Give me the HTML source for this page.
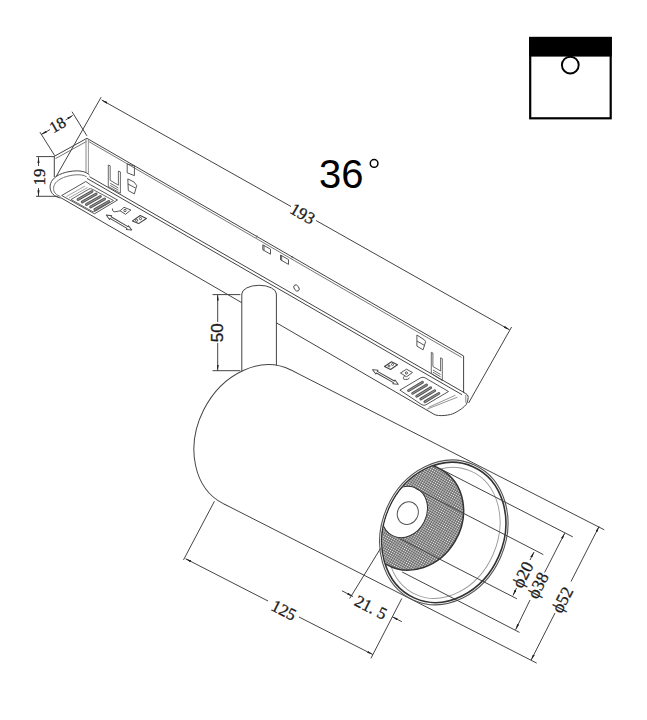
<!DOCTYPE html>
<html><head><meta charset="utf-8">
<style>
html,body{margin:0;padding:0;background:#fff;width:647px;height:720px;overflow:hidden}
svg{display:block;position:absolute;left:0;top:0}
text{font-family:"Liberation Serif",serif;fill:#1a1a1a;stroke:#1a1a1a;stroke-width:0.3px}
</style></head><body>
<svg width="647" height="720" viewBox="0 0 647 720" fill="none" stroke="#333" stroke-width="1">
<defs>
<pattern id="mesh" width="2.2" height="2.2" patternUnits="userSpaceOnUse">
<rect width="2.2" height="2.2" fill="#606060" stroke="none"/>
<circle cx="1.1" cy="1.1" r="0.75" fill="#f4f4f4" stroke="none"/>
</pattern>
<marker id="arr" viewBox="0 0 6 2.2" refX="6" refY="1.1" markerWidth="6" markerHeight="2.2" orient="auto-start-reverse" markerUnits="userSpaceOnUse">
<path d="M0,0 L6,1.1 L0,2.2 z" fill="#222" stroke="none"/>
</marker>
</defs>

<!-- icon -->
<rect x="530.2" y="38" width="80.5" height="80.3" stroke="#000" stroke-width="2.2"/>
<rect x="529.1" y="36.9" width="82.7" height="19.7" fill="#000" stroke="none"/>
<circle cx="570.3" cy="65.1" r="8.4" stroke="#000" stroke-width="1.9"/>

<!-- 36 deg -->
<text x="319" y="188" style="font-family:'Liberation Sans',sans-serif;font-size:40px;fill:#000;stroke:none">36</text>
<circle cx="374.1" cy="163.4" r="3.85" stroke="#000" stroke-width="1.5"/>

<!-- ============ TRACK ============ -->
<g stroke="#444">
<!-- L1 double -->
<line x1="86.9" y1="138.3" x2="463.7" y2="356"/>
<line x1="87.8" y1="141" x2="461.6" y2="357.4" stroke="#777"/>
<!-- A-B double -->
<line x1="54.3" y1="156.3" x2="86.9" y2="138.3"/>
<line x1="55.5" y1="158.6" x2="86.4" y2="141.5" stroke="#777"/>
<!-- left vertical -->
<line x1="54.3" y1="156.3" x2="54.3" y2="177"/>
<!-- B vertical double -->
<line x1="86" y1="139" x2="86" y2="172.5" stroke="#888"/>
<line x1="88.4" y1="140" x2="88.4" y2="173.5" stroke="#999"/>
<!-- right vertical -->
<line x1="463.6" y1="356" x2="463.6" y2="392.5"/>
<!-- L2 double -->
<line x1="89.5" y1="176.7" x2="464.3" y2="392.7"/>
<line x1="87" y1="178.4" x2="462" y2="394.7"/>
<!-- L3 -->
<line x1="61.7" y1="198.2" x2="433.9" y2="414.2"/>
<!-- left end cap -->
<path d="M89.5,175 C86,171.5 80,170.7 75.6,170.9 C67,171.3 57,174 52.5,180 C49.3,184 49.3,190 52.4,193.6 C55,196.5 58,197.6 61.7,198.2"/>
<path d="M86.7,176.9 C83.5,174.6 79,174.6 75,174.9 C67,175.6 59,178.5 55.5,183 C53,186.5 53,190.5 55,193 C56.5,194.8 58.5,195.8 60.5,196.5" stroke="#777"/>
<!-- right end cap -->
<path d="M463.6,392.5 C466.5,393.5 468.5,395.5 468.2,397.5 C468,400 467.5,402 466.4,404.3 C464,407 461.5,409 459.9,409.9 C456,412.5 453,413.8 450.6,414.5 C446,415.5 442,415.8 438.5,415.5 C436.5,415.3 435,415 433.9,414.2"/>
<path d="M465.8,394.8 L465.8,402.8" stroke="#888"/>
</g>

<!-- track small features -->
<g stroke="#444" stroke-width="0.9">
<!-- left grille -->
<path d="M61.7,195.5 L85.8,181.5 L90.5,184.8 L117.5,200 L94.5,213.8 Z"/>
<path d="M66.5,196.5 L85,186 M69,198 L87.5,187.5" stroke="#999"/>
<path d="M71,199.5 L89,189 Q90.5,188.3 92,189 L113.5,200.5 L95,211.3 Q93.5,212 92,211.3 Z" stroke="#555"/>
<g stroke="#555" stroke-width="2.8" stroke-linecap="round">
<line x1="78" y1="199.5" x2="92" y2="191.5"/>
<line x1="82.2" y1="202" x2="96.2" y2="194"/>
<line x1="86.4" y1="204.5" x2="100.4" y2="196.5"/>
<line x1="90.6" y1="207" x2="104.6" y2="199"/>
<line x1="94.8" y1="209.5" x2="108.8" y2="201.5"/>
</g>
<g stroke="#999" stroke-width="1" stroke-linecap="round">
<line x1="78" y1="199.5" x2="92" y2="191.5"/>
<line x1="82.2" y1="202" x2="96.2" y2="194"/>
<line x1="86.4" y1="204.5" x2="100.4" y2="196.5"/>
<line x1="90.6" y1="207" x2="104.6" y2="199"/>
<line x1="94.8" y1="209.5" x2="108.8" y2="201.5"/>
</g>
<!-- left small symbols -->
<path d="M112.4,208.5 Q112.5,212.2 115,211.8 L120.1,210.8 L124,207.3 L130.9,210 L125.5,214.3 L120.1,210.8"/>
<circle cx="125" cy="210.5" r="1.2"/>
<path d="M-14.8,0 L-9.8,-2.2 L-9.8,-1 L9.8,-1 L9.8,-2.2 L14.8,0 L9.8,2.2 L9.8,1 L-9.8,1 L-9.8,2.2 Z" transform="translate(119,222.6) rotate(30.6)" stroke-linejoin="round"/>
<path d="M132.5,220.9 L140.2,215.5 L146.4,218.5 L138.6,223.6 Z" stroke-linejoin="round" stroke-width="1.1"/>
<circle cx="136.6" cy="220.3" r="1.1"/><circle cx="140.5" cy="218.6" r="1.1"/>
<!-- left connector U on side -->
<path d="M108.3,186.5 L108.3,165 L110.2,165.8 L110.2,180.3 L118.4,185.2 L118.4,171 L120.4,171.9 L120.4,193.2 L118.4,192.2 L110.2,187.5 L108.3,186.5 M110.2,183.2 L118.4,188 M110.2,185.4 L118.4,190.2" stroke-width="0.8"/>
<path d="M127.2,163.9 L134.4,166.1 L134.4,175.6 L127.2,172.8 Z"/>
<path d="M127.8,178.9 L134,182 L136.7,185.5 L134.4,193.9 L128.3,190.6 Z M128,184 L135.5,188"/>
<!-- middle slots -->
<path d="M262.8,244.8 L270.5,249.2 L270.5,254.2 L262.8,249.8 Z M264,245.5 L264,250.5"/>
<path d="M280.5,255 L288.5,259.6 L288.5,264.4 L280.5,259.8 Z M281.7,255.7 L281.7,260.5"/>
<ellipse cx="296.5" cy="288" rx="2.3" ry="3.4" transform="rotate(-35 296.5 288)"/>
<path d="M257.2,235.2 L256.2,237.8 M292.8,255.9 L291.8,258.5" stroke="#666"/>
<!-- right connectors -->
<path d="M431.3,373 L431.3,352.3 L432.9,353 L432.9,366.5 L440.6,371 L440.6,357.8 L442.3,358.6 L442.3,380.5 L440.6,379.5 L432.9,374.5 L431.3,373 M432.9,370 L440.6,374.5 M432.9,372.2 L440.6,376.8" stroke-width="0.8"/>
<path d="M416.9,335 L424.4,339.9 L425.6,341.7 L423.1,349.8 L416.9,346.1 Z M417,341 L424.5,345.5"/>
<path d="M399.9,390.1 L421,377.6 Q423,376.8 425,377.8 L448.5,391.5 L425.8,404.9 Q424,405.7 422,404.8 Z"/>
<path d="M428.6,407.3 L455.5,395.2 M426.7,409.3 L457.4,397.2" stroke="#888"/>
<g stroke="#555" stroke-width="2.8" stroke-linecap="round">
<line x1="408.5" y1="390.6" x2="422.5" y2="382.2"/>
<line x1="412.6" y1="393.4" x2="426.6" y2="385"/>
<line x1="416.7" y1="396.2" x2="430.7" y2="387.8"/>
<line x1="420.8" y1="399" x2="434.8" y2="390.6"/>
<line x1="424.9" y1="401.8" x2="438.9" y2="393.4"/>
</g>
<g stroke="#999" stroke-width="1" stroke-linecap="round">
<line x1="408.5" y1="390.6" x2="422.5" y2="382.2"/>
<line x1="412.6" y1="393.4" x2="426.6" y2="385"/>
<line x1="416.7" y1="396.2" x2="430.7" y2="387.8"/>
<line x1="420.8" y1="399" x2="434.8" y2="390.6"/>
<line x1="424.9" y1="401.8" x2="438.9" y2="393.4"/>
</g>
<path d="M-14.8,0 L-9.8,-2.2 L-9.8,-1 L9.8,-1 L9.8,-2.2 L14.8,0 L9.8,2.2 L9.8,1 L-9.8,1 L-9.8,2.2 Z" transform="translate(385.4,377) rotate(29.7)" stroke-linejoin="round"/>
<path d="M384.5,366.5 L391.5,361.8 L397.5,364.8 L390.5,369.5 Z" stroke-linejoin="round" stroke-width="1.1"/>
<circle cx="389" cy="366" r="1"/><circle cx="392.5" cy="364.5" r="1"/>
<path d="M400.5,373 L406.5,369.2 L412.5,372.5 L406.5,376.8 Z"/>
<circle cx="406.4" cy="373" r="1.1"/>
<path d="M404.5,376 Q401.5,379.5 405.8,379.5 Q408,379.8 409.5,378"/>
</g>

<!-- ============ STEM ============ -->
<path d="M241.8,372 L241.8,294 A17.3,8.7 0 0 1 276.4,294 L276.4,368" fill="#fff" stroke="#444"/>

<!-- ============ CYLINDER ============ -->
<defs>
<clipPath id="ringclip"><ellipse cx="0" cy="0" rx="59.3" ry="71.3" transform="translate(443.8,532.4) rotate(23.9)"/></clipPath>
</defs>
<g stroke="#444">
<ellipse cx="0" cy="0" rx="59.8" ry="74.9" transform="translate(257.1,436.8) rotate(26.8)" fill="#fff"/>
<path d="M291.2,370.1 L477.6,466.2 L412.2,599.2 L223.3,503.6 Z" fill="#fff" stroke="none"/>
<line x1="291.2" y1="370.1" x2="604.3" y2="529.8"/>
<line x1="223.3" y1="503.6" x2="536.7" y2="663.1"/>
<g transform="translate(443.8,532.4) rotate(23.9)">
<ellipse cx="0" cy="0" rx="62" ry="74.1" fill="#fff" stroke="#555" stroke-width="1.1"/>
<ellipse cx="0" cy="0" rx="59.9" ry="71.9" stroke="#333" stroke-width="1.6"/>
<ellipse cx="0" cy="0.5" rx="54" ry="67.5" stroke="#999" stroke-width="0.9"/>
</g>
<g clip-path="url(#ringclip)">
<ellipse cx="0" cy="0" rx="47.6" ry="54.8" transform="translate(414.05,517.06) rotate(30.4)" fill="url(#mesh)" stroke="#333" stroke-width="1.5"/>
<ellipse cx="0" cy="0" rx="22" ry="26.5" transform="translate(404.5,512) rotate(27)" fill="#fff" stroke="#333" stroke-width="1"/>
</g>
<ellipse cx="0" cy="0" rx="10.3" ry="11.6" transform="translate(407.8,513.1) rotate(27)" stroke="#555"/>
<!-- phi ext lines -->
<line x1="441.1" y1="469.2" x2="572.8" y2="536.9"/>
<line x1="402.2" y1="572" x2="519.5" y2="632.4"/>
<line x1="415.2" y1="488.3" x2="543.3" y2="554.6"/>
<line x1="399.7" y1="538.6" x2="516.9" y2="598.8"/>
<!-- phi dim lines -->
<line x1="599.1" y1="526.4" x2="571" y2="581.5" marker-start="url(#arr)"/>
<line x1="555" y1="613" x2="531.1" y2="660.1" marker-end="url(#arr)"/>
<line x1="564.7" y1="533.2" x2="544.6" y2="572.5" marker-start="url(#arr)"/>
<line x1="530" y1="600" x2="515.6" y2="629.7" marker-end="url(#arr)"/>
<line x1="534" y1="552" x2="530" y2="560" marker-start="url(#arr)"/>
<line x1="516.5" y1="588" x2="513" y2="595.5" marker-end="url(#arr)"/>
<!-- 125 -->
<line x1="214.4" y1="501.3" x2="183.5" y2="559.9"/>
<line x1="401.8" y1="598.5" x2="370.9" y2="658.4"/>
<line x1="185.5" y1="558.7" x2="268" y2="601" marker-start="url(#arr)"/>
<line x1="299" y1="617" x2="372.9" y2="654.6" marker-end="url(#arr)"/>
<!-- 21.5 -->
<line x1="380.6" y1="548.3" x2="349.7" y2="598.5"/>
<line x1="342" y1="590.8" x2="353" y2="596.5" marker-end="url(#arr)"/>
<line x1="401.8" y1="621.7" x2="392" y2="616.6" marker-end="url(#arr)"/>
</g>
<text transform="translate(284,610) rotate(27)" text-anchor="middle" y="6" font-size="17">125</text>
<text transform="translate(371,607) rotate(27)" text-anchor="middle" y="6" font-size="17">21. 5</text>
<text transform="translate(522.5,574.6) rotate(-62.5)" text-anchor="middle" y="6" font-size="17.5">&#x3d5;20</text>
<text transform="translate(537.8,585.4) rotate(-62.5)" text-anchor="middle" y="6" font-size="17.5">&#x3d5;38</text>
<text transform="translate(562.2,599.7) rotate(-62.5)" text-anchor="middle" y="6" font-size="17.5">&#x3d5;52</text>

<!-- ============ DIMENSIONS ============ -->
<g stroke="#444">
<!-- 193 -->
<line x1="101.1" y1="97.2" x2="56.1" y2="176.7"/>
<line x1="511.6" y1="327" x2="468.6" y2="403"/>
<line x1="101.7" y1="100" x2="291" y2="206.5" marker-start="url(#arr)"/>
<line x1="316" y1="220.5" x2="509.5" y2="329.8" marker-end="url(#arr)"/>
<text transform="translate(302.2,214.3) rotate(30)" text-anchor="middle" y="5" font-size="17">193</text>
<!-- 18 -->
<line x1="39.9" y1="132.1" x2="54.7" y2="155.6"/>
<line x1="72" y1="111.7" x2="86.9" y2="135.8"/>
<line x1="41.1" y1="134.6" x2="50" y2="129.6" marker-start="url(#arr)"/>
<line x1="65.6" y1="120" x2="72.7" y2="115.4" marker-end="url(#arr)"/>
<text transform="translate(57.5,124.7) rotate(-30)" text-anchor="middle" y="5.5" font-size="16">18</text>
<!-- 19 -->
<line x1="36.2" y1="156.6" x2="54.7" y2="156.6"/>
<line x1="36" y1="196.3" x2="58.3" y2="196.3"/>
<line x1="38.5" y1="157.2" x2="38.5" y2="166" marker-start="url(#arr)"/>
<line x1="38.5" y1="188" x2="38.5" y2="196.3" marker-end="url(#arr)"/>
<text transform="translate(39,177) rotate(-90)" text-anchor="middle" y="6" font-size="17">19</text>
<!-- 50 -->
<line x1="212.5" y1="294.6" x2="240.3" y2="294.6"/>
<line x1="212.5" y1="370.7" x2="240.3" y2="370.7"/>
<line x1="217.7" y1="294.6" x2="217.7" y2="322" marker-start="url(#arr)"/>
<line x1="217.7" y1="343" x2="217.7" y2="370.7" marker-end="url(#arr)"/>
<text transform="translate(217.2,332.8) rotate(-90)" text-anchor="middle" y="6.1" style="font-family:'Liberation Sans',sans-serif;font-size:17px">50</text>
</g>
</svg>
</body></html>
